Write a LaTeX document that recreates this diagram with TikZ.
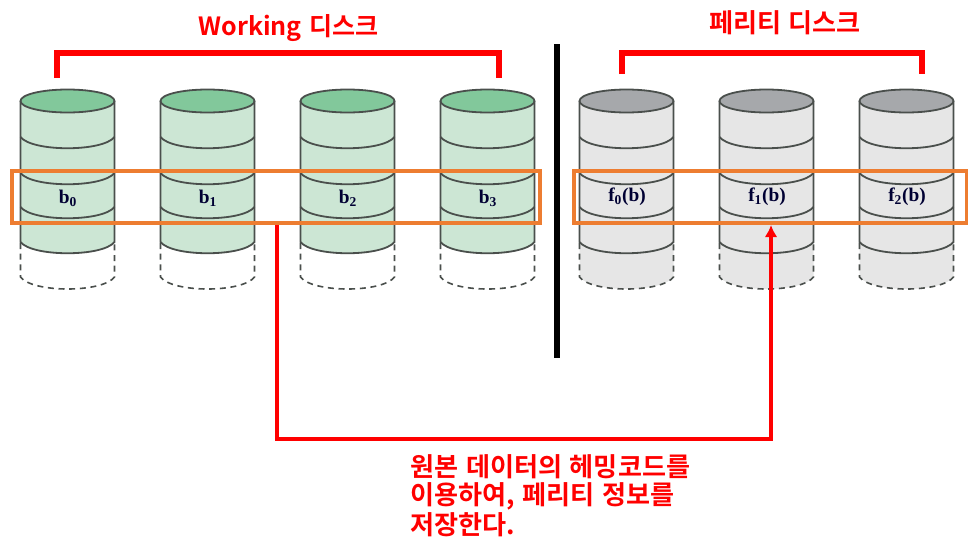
\documentclass[tikz,border=0pt]{standalone}
\usepackage{fontspec}
\usetikzlibrary{arrows.meta}
\setmainfont{Liberation Serif}
\newfontfamily\kr{Noto Sans CJK KR}[BoldFont={Noto Sans CJK KR Bold},WordSpace=1.3]
\definecolor{grnbody}{HTML}{CCE6D4}
\definecolor{grntop}{HTML}{82C89B}
\definecolor{grybody}{HTML}{E6E6E6}
\definecolor{grytop}{HTML}{A6A8AB}
\definecolor{cylline}{HTML}{4A4F4C}
\definecolor{orangebox}{HTML}{ED7D31}
\definecolor{redlab}{HTML}{FF0000}
\tikzset{
  x=0.75pt,y=-0.75pt,
  cyl/.style={draw=cylline,line width=1.35pt},
  dsh/.style={draw=cylline,line width=1.2pt,dash pattern=on 4.5pt off 3.5pt},
  hilite/.style={draw=orangebox,line width=3pt,minimum height=39pt,inner sep=0pt,outer sep=0pt,fill=none},
  redline/.style={draw=redlab,line width=3pt},
  redbracket/.style={draw=redlab,line width=4.2pt},
  redtext/.style={text=redlab,font=\kr\bfseries\fontsize{19.6}{24}\selectfont,inner sep=0pt},
  cyllabel/.style={font=\bfseries\fontsize{14.5}{16}\selectfont,text=black!80!blue,inner sep=0pt}
}
\newcommand{\disk}[4]{% left x, body colour, top colour, dashed fill
  \begin{scope}[shift={(#1,0)}]
    \fill[#4] (0,242) -- (0,277) .. controls (12,293) and (82,293) .. (94,277) -- (94,242) -- cycle;
    \fill[#2] (0,101) -- (0,242) .. controls (12,257) and (82,257) .. (94,242) -- (94,101) -- cycle;
    \draw[dsh] (0,243) -- (0,277) .. controls (12,293) and (82,293) .. (94,277) -- (94,243);
    \draw[cyl] (0,101) -- (0,242) .. controls (12,257) and (82,257) .. (94,242) -- (94,101);
    \foreach \yy in {137,173,207}
      \draw[cyl] (0,\yy) .. controls (12,\yy+15) and (82,\yy+15) .. (94,\yy);
    \draw[cyl,fill=#3] (47,101) ellipse [x radius=47,y radius=11.5];
  \end{scope}
}
\begin{document}
\begin{tikzpicture}
\useasboundingbox (0,0) rectangle (968,554);
\disk{20.5}{grnbody}{grntop}{white}
\disk{160.5}{grnbody}{grntop}{white}
\disk{300.5}{grnbody}{grntop}{white}
\disk{440.5}{grnbody}{grntop}{white}
\disk{579.5}{grybody}{grytop}{grybody}
\disk{719.5}{grybody}{grytop}{grybody}
\disk{859.5}{grybody}{grytop}{grybody}
\node[cyllabel] (b0) at (68,198) {b$_{\mathbf 0}$};
\node[cyllabel] (b1) at (208,198) {b$_{\mathbf 1}$};
\node[cyllabel] (b2) at (348,198) {b$_{\mathbf 2}$};
\node[cyllabel] (b3) at (488,198) {b$_{\mathbf 3}$};
\node[cyllabel] (f0) at (627,197) {f$_{\mathbf 0}$(b)};
\node[cyllabel] (f1) at (767,197) {f$_{\mathbf 1}$(b)};
\node[cyllabel] (f2) at (907,197) {f$_{\mathbf 2}$(b)};
\node[hilite,minimum width=396pt,anchor=north west] (wbox) at (12,171) {};
\node[hilite,minimum width=295pt,anchor=north west] (pbox) at (574,171) {};
% red bracket groups
\coordinate (wl) at (57,78); \coordinate (wr) at (499,78); \coordinate (wt) at (278,53);
\coordinate (pl) at (622,74); \coordinate (pr) at (922,74); \coordinate (pt) at (772,53);
\draw[redbracket] (wl) |- (wt) -| (wr);
\draw[redbracket] (pl) |- (pt) -| (pr);
% divider
\coordinate (da) at (557,44); \coordinate (db) at (557,358);
\draw[black,line width=4.4pt] (da) -- (db);
% connector
\coordinate (cs) at (277,225); \coordinate (cm) at (524,439); \coordinate (ce) at (771,225);
\draw[redline,-{Latex[length=9pt,width=9.5pt]}] (cs) |- (cm) -| (ce);
\node[redtext,font=\kr\bfseries\fontsize{18.8}{24}\selectfont] (t1) at (288.5,28) {Working 디스크};
\node[redtext] (t2) at (785,23) {페리티 디스크};
\node[redtext,anchor=west] (t3) at (410,467) {원본 데이터의 헤밍코드를};
\node[redtext,anchor=west] (t4) at (410,496) {이용하여, 페리티 정보를};
\node[redtext,anchor=west] (t5) at (410,525) {저장한다.};
\end{tikzpicture}
\end{document}
